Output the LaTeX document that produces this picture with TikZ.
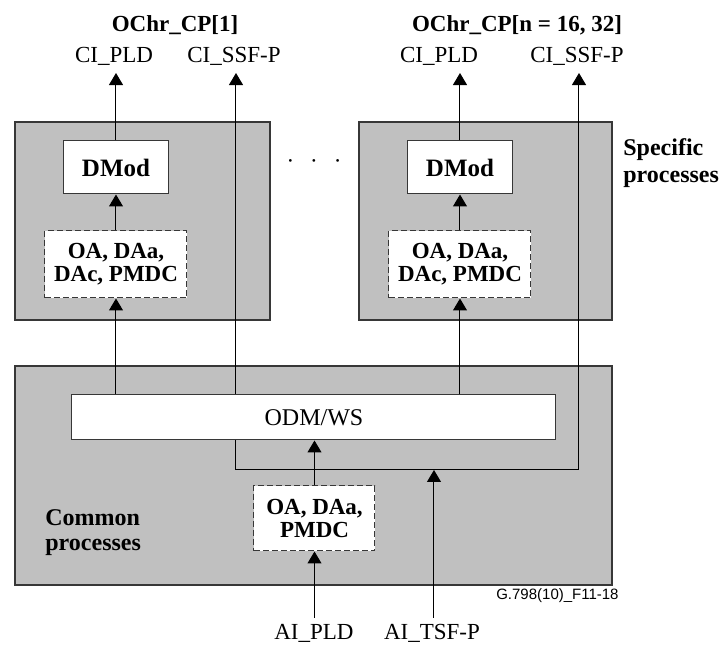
\documentclass[tikz,border=0pt]{standalone}
\usepackage{fontspec}
\setmainfont{Liberation Serif}
\newfontfamily\codefont{Liberation Sans}
\usetikzlibrary{positioning,arrows.meta}
\definecolor{procgray}{RGB}{192,192,192}
\definecolor{edgegray}{RGB}{55,55,55}

\begin{document}
\begin{tikzpicture}[
  x=0.5pt, y=-0.5pt,
  font=\fontsize{11.5}{13.5}\selectfont,
  grp/.style={draw=edgegray, fill=procgray, line width=0.6pt, inner sep=0pt},
  blk/.style={draw=edgegray, fill=white, line width=0.5pt, inner sep=0pt},
  dsh/.style={draw=edgegray, fill=white, dash pattern=on 3pt off 1.5pt,
              line width=0.5pt, inner sep=0pt, align=center,
              font=\bfseries\fontsize{11.5}{11.5}\selectfont},
  lbl/.style={anchor=base},
  ttl/.style={anchor=base, font=\bfseries\fontsize{11.5}{13}\selectfont},
  arrow/.style={-{Triangle[length=6pt,width=7pt]}, line width=0.5pt},
  biarrow/.style={{Triangle[length=6pt,width=7pt]}-{Triangle[length=6pt,width=7pt]},
                  line width=0.5pt}
]
\useasboundingbox (0,0) rectangle (720,646);

% process groups
\node[grp, minimum width=127.5pt, minimum height=99pt] (spec1) at (142.5,221) {};
\node[grp, minimum width=126.5pt, minimum height=99pt] (spec2) at (485.5,221) {};
\node[grp, minimum width=298.5pt, minimum height=109.5pt] (common) at (313.5,475.5) {};

% signal names
\node[ttl] (title1) at (175,32) {OChr\_CP[1]};
\node[ttl] (title2) at (517,32) {OChr\_CP[n = 16, 32]};
\node[lbl] (cipld1) at (114,63) {CI\_PLD};
\node[lbl] (cissf1) at (234,63) {CI\_SSF-P};
\node[lbl] (cipld2) at (439,63) {CI\_PLD};
\node[lbl] (cissf2) at (577,63) {CI\_SSF-P};
\node[lbl] (aipld) at (314,640) {AI\_PLD};
\node[lbl] (aitsf) at (432,640) {AI\_TSF-P};

% SSF path runs behind ODM/WS
\coordinate (ssf1) at (236,470);
\coordinate (ssf2) at (579,470);
\coordinate (tsfin) at (434,470);
\draw[biarrow] (cissf1.south -| ssf1) -- (ssf1) -- (ssf2) -- (cissf2.south -| ssf2);

% blocks
\node[blk, minimum width=52.5pt, minimum height=26.5pt, font=\bfseries\fontsize{12.5}{14}\selectfont] (dmod1) at (116,167.5) {DMod};
\node[blk, minimum width=52.5pt, minimum height=26.5pt, font=\bfseries\fontsize{12.5}{14}\selectfont] (dmod2) at (460,167.5) {DMod};
\node[dsh, minimum width=71pt, minimum height=33.5pt] (dsp1) at (116,264.5) {OA, DAa,\\DAc, PMDC};
\node[dsh, minimum width=71pt, minimum height=33.5pt] (dsp2) at (460,264.5) {OA, DAa,\\DAc, PMDC};
\node[blk, minimum width=242pt, minimum height=22.5pt, font=\fontsize{12}{14}\selectfont] (odm) at (314,417.5) {ODM/WS};
\node[dsh, minimum width=60.5pt, minimum height=32.5pt] (dcp) at (314.5,518.5) {OA, DAa,\\PMDC};

\node[lbl] (dots) at (314,169) {·\hspace{8pt}·\hspace{8pt}·};
\node[font=\bfseries\fontsize{12}{13.5}\selectfont, align=left, anchor=west, inner sep=0pt] (spectxt) at (623,163.5) {Specific\\processes};
\node[font=\bfseries\fontsize{12}{12.5}\selectfont, align=left, anchor=west, inner sep=0pt] (commtxt) at (45,532.5) {Common\\processes};
\node[anchor=base east, inner sep=0pt, font=\codefont\fontsize{7.5}{9}\selectfont] (figid) at (619,600) {G.798(10)\_F11-18};

% connectors
\draw[arrow] (dmod1.north) -- (dmod1.north |- cipld1.south);
\draw[arrow] (dmod2.north) -- (dmod2.north |- cipld2.south);
\draw[arrow] (dsp1.north) -- (dmod1.south);
\draw[arrow] (dsp2.north) -- (dmod2.south);
\draw[arrow] (dsp1.south |- odm.north) -- (dsp1.south);
\draw[arrow] (dsp2.south |- odm.north) -- (dsp2.south);
\draw[arrow] (dcp.north) -- (dcp.north |- odm.south);
\draw[arrow] (dcp.south |- aipld.north) -- (dcp.south);
\draw[arrow] (aitsf.north -| tsfin) -- (tsfin);
\end{tikzpicture}
\end{document}
